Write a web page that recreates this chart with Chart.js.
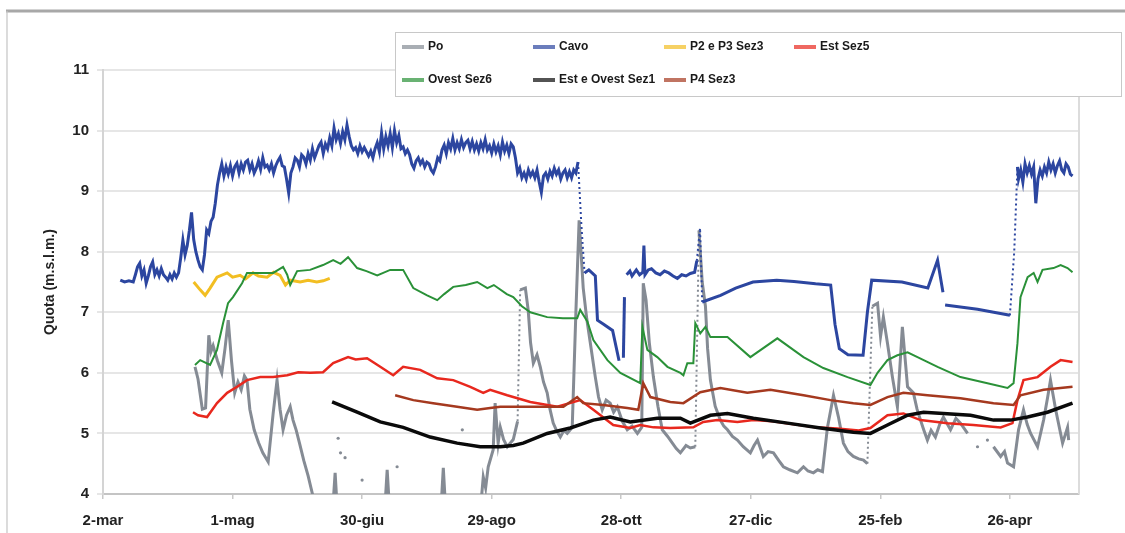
<!DOCTYPE html>
<html>
<head>
<meta charset="utf-8">
<script src="https://cdn.jsdelivr.net/npm/chart.js@4.4.0/dist/chart.umd.min.js"></script>
<style>
  html, body { margin: 0; padding: 0; background: #fff; }
  canvas { display: block; }
</style>
</head>
<body>
<canvas id="chart" width="1125" height="533"></canvas>
<script>
// asse x in giorni a partire dal 2 marzo
const tickDays = [0, 60, 120, 180, 240, 300, 360, 420];
const tickLabels = ["2-mar", "1-mag", "30-giu", "29-ago", "28-ott", "27-dic", "25-feb", "26-apr"];

// [giorno, quota m s.l.m.] - null = nessuna lettura
const po = [
  [42.6,6.10],[44,5.90],[46,5.40],[47.5,5.42],[49,6.62],[50,6.35],[51,6.45],[53,6.20],[55,6.00],[56.5,6.40],[58,6.87],[59.5,6.20],[61,5.67],
  [62.5,5.85],[64,5.72],[65.5,5.95],[66.7,5.88],[68,5.40],[70,5.06],[72,4.85],[74,4.68],[76.5,4.53],[78.8,5.33],[80.6,5.88],[82,5.40],[83.4,5.06],[85,5.30],[86.7,5.44],[88,5.22],
  [89.5,5.05],[91,4.84],[93,4.55],[95,4.30],[97,4.00],[99,3.60],[100,null],[106.5,3.80],[107.5,4.35],[108.4,3.80],[108.6,null],[108.9,4.92],
  [109.3,null],[110,4.68],[111,null],[112.1,4.60],[113,null],[120,4.23],[121,null],[130.6,3.80],[131.6,4.40],[132.6,3.80],
  [133,null],[136.2,4.45],[137,null],[156.6,3.80],[157.6,4.43],[158.6,3.80],[159,null],[166.4,5.06],[167,null],[174.7,3.70],
  [176.1,4.28],[177.2,4.10],[178.4,4.45],[180.7,4.73],[181.6,5.50],[183,4.84],[184,5.10],[185.5,4.90],[187.2,4.78],[190,4.90],[192,5.20],[193.2,7.37],
  [195.6,7.40],[196.9,7.04],[198,6.50],[199.3,6.16],[201,6.30],[202.5,6.10],[204,5.85],[205.7,5.67],[207,5.40],[208.5,5.17],[210,5.05],[211.8,4.94],[213.5,5.05],[215,5.00],[217.3,5.10],[219,7.00],
  [220.5,8.52],[222.4,7.40],[224,6.90],[225.7,6.49],[228,5.93],[229.5,5.60],[231.2,5.39],[233,5.55],[234.9,5.50],[236.5,5.35],[238.2,5.44],[240.5,5.20],[242.8,5.06],[245,5.12],[247.5,5.00],[249.5,5.10],
  [250.2,7.48],[251.5,7.20],[253,6.50],[254.9,5.93],[257,5.45],[259,5.06],[261.5,4.95],[263.7,4.84],[265.5,4.75],[267.4,4.68],[270,4.80],[272,4.76],[274.3,4.78],[276,8.35],[277.5,7.50],
  [279,7.10],[280,6.40],[281.3,5.88],[283.5,5.45],[285.9,5.22],[287.5,5.12],[289.2,5.06],[291.5,4.95],[293.8,4.89],[296.5,4.78],[299.8,4.68],[301.5,4.80],[303.1,4.89],[305.8,4.62],[308,4.70],[310.5,4.68],[313,4.55],[315.1,4.45],
  [318,4.40],[321.6,4.35],[324.4,4.45],[326.5,4.38],[329,4.35],[331,4.40],[333.2,4.37],[335.5,5.10],[338.3,5.63],[340.6,5.27],[342.9,4.84],[345,4.70],[347.5,4.62],[350,4.58],[352.2,4.56],
  [354,4.50],[356.3,7.10],[358.7,7.15],[360.1,6.60],[361.4,6.92],[363.3,6.49],[365.6,5.93],[367.9,5.44],[370.2,6.76],[372.6,5.77],
  [375.3,5.67],[377,5.40],[378.6,5.22],[380.2,5.05],[381.8,4.89],[383.5,5.05],[385.5,4.94],[387.5,5.15],[389.2,5.27],[392.5,5.06],[395,5.25],[397.1,5.17],[400.4,5.00],[402,null],[405,4.78],
  [406,null],[409.6,4.89],[410.5,null],[412.4,4.78],[415.7,4.62],[417.5,4.70],[418.9,4.51],[421.7,4.45],[424,5.06],[426.3,5.39],[428,5.15],[429.6,5.00],
  [432.8,4.78],[435.6,5.22],[437.5,5.60],[438.8,5.88],[441.2,5.39],[444.4,4.84],[446.7,5.10],[447.2,4.89]
];

const cavo = [
  [8,7.53],[10,7.50],[12,7.52],[14,7.50],[15,7.62],[16,7.75],[17,7.81],[18,7.60],[19,7.70],[20,7.48],
  [21,7.60],[22,7.75],[23,7.83],[24,7.62],[25,7.70],[26,7.60],[27,7.72],[28,7.62],[29,7.58],[30,7.53],
  [31,7.62],[32,7.55],[33,7.65],[34,7.58],[35,7.65],[36,7.90],[37,8.19],[38,7.95],[39,8.10],[40,8.35],
  [41,8.65],[42,8.20],[43,8.00],[44,7.86],[45,7.75],[46,7.70],[47,7.95],[48,8.36],[49,8.30],[50,8.50],
  [51,8.57],[52,8.80],[53,9.10],[54,9.30],[55,9.45],[56,9.25],[57,9.40],[58,9.28],[59,9.42],[60,9.25],
  [61,9.40],[62,9.46],[63,9.30],[64,9.45],[65,9.35],[66,9.48],[67,9.51],[68,9.35],[69,9.45],[70,9.30],
  [71,9.38],[72,9.50],[73,9.36],[74,9.55],[75,9.40],[76,9.43],[77,9.35],[78,9.45],[79,9.30],[80,9.42],
  [81,9.50],[82,9.56],[83,9.42],[84,9.40],[85,9.20],[86,8.97],[87,9.30],[88,9.40],[89,9.55],[90,9.51],
  [91,9.40],[92,9.60],[93,9.56],[94,9.45],[95,9.62],[96,9.51],[97,9.70],[98,9.55],[99,9.65],[100,9.75],
  [101,9.81],[102,9.62],[103,9.78],[104,9.70],[105,9.88],[106,9.75],[107,10.04],[108,9.85],[109,9.95],[110,9.79],
  [111,9.98],[112,9.85],[113,10.09],[114,9.90],[115,9.75],[116,9.68],[117,9.72],[118,9.62],[119,9.75],[120,9.65],
  [121,9.72],[122,9.65],[123,9.58],[124,9.66],[125,9.55],[126,9.70],[127,9.80],[128,9.65],[129,9.96],[130,9.70],
  [131,9.90],[132,9.75],[133,9.95],[134,9.72],[135,10.00],[136,9.80],[137,9.92],[138,9.70],[139,9.73],[140,9.62],
  [141,9.68],[142,9.60],[143,9.45],[144,9.38],[145,9.50],[146,9.55],[147,9.45],[148,9.51],[149,9.40],[150,9.48],
  [151,9.45],[152,9.35],[153,9.30],[154,9.40],[155,9.55],[156,9.50],[157,9.68],[158,9.76],[159,9.62],[160,9.80],
  [161,9.70],[162,9.87],[163,9.68],[164,9.80],[165,9.70],[166,9.85],[167,9.72],[168,9.80],[169,9.84],[170,9.70],
  [171,9.82],[172,9.68],[173,9.78],[174,9.66],[175,9.80],[176,9.70],[177,9.85],[178,9.68],[179,9.75],[180,9.63],
  [181,9.78],[182,9.65],[183,9.75],[184,9.60],[185,9.81],[186,9.66],[187,9.76],[188,9.62],[189,9.78],[190,9.73],
  [191,9.55],[192,9.30],[193,9.38],[194,9.22],[195,9.30],[196,9.20],[197,9.35],[198,9.25],[199,9.32],[200,9.22],
  [201,9.35],[202,9.15],[203,8.98],[204,9.25],[205,9.30],[206,9.20],[207,9.33],[208,9.25],[209,9.38],[210,9.28],
  [211,9.35],[212,9.20],[213,9.30],[214,9.35],[215,9.22],[216,9.32],[217,9.22],[218,9.35],[219,9.30],[220,9.48],
  [221.5,8.47],[223,7.65],[225,7.70],[228,7.60],[229,6.87],[232,6.80],[236,6.70],[239,6.20],[240,null],[241,6.25],
  [241.5,7.25],[242,null],[242.5,7.62],[244,7.68],[245,7.60],[247,7.70],[248.5,7.62],[250,7.66],[250.5,8.10],[251,7.62],
  [252.5,7.70],[254,7.72],[256,7.65],[258,7.62],[260,7.68],[262,7.65],[264,7.60],[266,7.56],[268,7.62],[270,7.60],
  [272,7.64],[274,7.66],[275,7.85],[276.5,8.39],[277.5,7.17],[286,7.28],[293,7.40],[301,7.50],[312,7.53],[320,7.51],
  [330,7.47],[337,7.45],[339,6.80],[341,6.40],[345,6.30],[352,6.29],[354,7.00],[356,7.53],[370,7.50],[382,7.40],
  [386.5,7.86],[389,7.33],[389.5,null],[390,7.12],[405,7.05],[420,6.95],[422,8.00],[423.5,9.40],[424,9.20],[425,9.35],
  [426,9.15],[427,9.45],[428,9.30],[429,9.42],[430,9.28],[431,9.40],[432,8.80],[433,9.20],[434,9.35],[435,9.25],
  [436,9.40],[437,9.30],[438,9.48],[439,9.35],[440,9.45],[441,9.30],[442,9.42],[443,9.50],[444,9.35],[445,9.30],
  [446,9.45],[447,9.40],[448,9.28],[449,9.25]
];

const p2p3Sez3 = [
  [42,7.50],[45,7.37],[47.3,7.28],[49.6,7.40],[52.8,7.58],[57.5,7.65],[60,7.58],[63.5,7.61],[66,7.55],[69.5,7.65],
  [72,7.60],[76,7.58],[79,7.66],[82,7.61],[84.5,7.45],[86.7,7.53],[91.3,7.50],[95,7.53],[99,7.50],[102,7.52],[105,7.56]
];

const estSez5 = [
  [41.7,5.35],[44,5.30],[48.2,5.27],[52.8,5.50],[57.5,5.67],[62.1,5.77],[66.7,5.88],[72.8,5.93],[78.8,5.93],[85.3,5.96],
  [90.4,6.01],[96,6.00],[101.9,6.01],[106.6,6.16],[113.5,6.26],[117,6.22],[122.3,6.24],[128.4,6.10],[134.4,5.96],[139,6.10],
  [146.9,6.05],[154.8,5.91],[162.2,5.88],[170.1,5.77],[176.1,5.67],[179.3,5.72],[187.2,5.63],[197.9,5.52],[210.4,5.44],[221,5.55],
  [227.1,5.39],[236.3,5.14],[244.2,5.09],[248.8,5.14],[254.9,5.10],[262.7,5.09],[273.4,5.10],[278,5.19],[284.5,5.22],[293.8,5.19],
  [301.2,5.22],[310,5.20],[320,5.15],[330,5.10],[340,5.08],[350,5.05],[355.4,5.09],[363.3,5.30],[370.7,5.33],[378.6,5.22],
  [391.1,5.17],[403.1,5.14],[415.7,5.10],[421.2,5.17],[423.5,5.55],[426.3,5.88],[432.8,5.93],[438.8,6.10],[443.5,6.21],[449,6.18]
];

const ovestSez6 = [
  [42.6,6.13],[45,6.21],[49.6,6.13],[52.8,6.38],[55.6,6.82],[57.9,7.15],[60.2,7.25],[64.4,7.48],[66.7,7.65],[72.8,7.65],
  [78.8,7.65],[83.4,7.75],[85.3,7.62],[86.7,7.45],[89.9,7.68],[95.9,7.70],[101.9,7.78],[106.6,7.86],[110,7.80],[113.5,7.91],
  [117.7,7.73],[122,7.68],[127,7.61],[133,7.70],[139,7.70],[143.7,7.40],[150.1,7.28],[154.8,7.20],[158,7.30],[162.2,7.42],
  [168,7.45],[173.3,7.50],[178,7.40],[181,7.45],[187,7.30],[190,7.25],[194,7.10],[197.9,7.00],[205.7,6.92],[213,6.90],
  [219.6,6.90],[221,7.04],[224.3,6.85],[227.1,6.54],[233.6,6.21],[239.6,6.00],[248.8,5.83],[249.8,6.76],[252.1,6.38],[256.7,6.26],
  [261.4,6.10],[267.4,6.00],[268.8,5.96],[270.6,6.16],[273.4,6.16],[274.3,6.82],[276.6,6.65],[279,6.76],[281.3,6.59],[289.2,6.59],
  [299.8,6.26],[312.3,6.57],[324.4,6.26],[333.6,6.08],[344.8,5.93],[355.4,5.80],[358.7,6.00],[363.3,6.21],[367.9,6.29],[372.6,6.34],
  [377.2,6.26],[386.5,6.10],[397.1,5.93],[409.6,5.83],[418.9,5.75],[421.7,5.83],[423.5,6.49],[424.9,7.25],[428.2,7.58],[431,7.65],
  [432.8,7.50],[435.1,7.70],[440.2,7.73],[443.5,7.78],[446.7,7.73],[449,7.66]
];

const estOvestSez1 = [
  [106.1,5.52],[117.7,5.35],[128.4,5.19],[139,5.10],[151.5,4.94],[164,4.84],[174.7,4.78],[184,4.78],[190,4.80],[194.6,4.84],
  [205.7,5.00],[216.4,5.09],[227.1,5.22],[234.9,5.27],[244.2,5.19],[256.7,5.25],[267.4,5.25],[272,5.17],[281.3,5.30],[289.2,5.33],
  [301.2,5.25],[317,5.17],[332.3,5.09],[347.5,5.02],[355.4,5.00],[363.3,5.14],[372.6,5.30],[380,5.35],[389.2,5.33],[401.8,5.30],
  [412.4,5.22],[420.3,5.22],[428.2,5.27],[437.4,5.35],[449,5.50]
];

const p4Sez3 = [
  [135.3,5.63],[143.7,5.55],[152.9,5.50],[164,5.44],[173.3,5.39],[179.3,5.42],[184,5.44],[197.9,5.44],[213.2,5.44],[219.6,5.60],
  [222.4,5.50],[231.7,5.47],[242.8,5.42],[247.9,5.39],[250.2,5.83],[253.5,5.60],[262.7,5.52],[268.8,5.50],[276.6,5.68],[285.9,5.75],
  [298.4,5.67],[309.1,5.72],[324.4,5.63],[336.9,5.55],[347.5,5.50],[355.4,5.47],[363.3,5.60],[370.7,5.67],[381.8,5.63],[397.1,5.58],
  [412.4,5.50],[421.7,5.47],[424.9,5.63],[435.6,5.72],[449,5.77]
];

// tratti senza letture continue: disegnati a puntini (giorno di inizio del tratto)
const dottedFrom = {
  "Po": [192, 274.3, 354],
  "Cavo": [220, 221.5, 275, 276.5, 420, 422]
};

const series = [
  { label: "Po", data: po, color: "#858b94", width: 3 },
  { label: "Cavo", data: cavo, color: "#2c46a0", width: 3 },
  { label: "P2 e P3 Sez3", data: p2p3Sez3, color: "#f2be22", width: 3 },
  { label: "Est Sez5", data: estSez5, color: "#e8281e", width: 2.5 },
  { label: "Ovest Sez6", data: ovestSez6, color: "#2a9138", width: 2 },
  { label: "Est e Ovest Sez1", data: estOvestSez1, color: "#0a0a0a", width: 3.5 },
  { label: "P4 Sez3", data: p4Sez3, color: "#a5391f", width: 2.5 }
];

const FONT = '"Liberation Sans", Arial, sans-serif';
Chart.defaults.font.family = FONT;

function isDotted(ctx) {
  const s = series[ctx.datasetIndex];
  const list = dottedFrom[s.label];
  if (!list) return false;
  return list.includes(s.data[ctx.p0DataIndex][0]);
}

function lonePointRadius(ctx) {
  const d = ctx.dataset.data;
  const i = ctx.dataIndex;
  if (!d[i] || d[i].y === null) return 0;
  const prevGap = i === 0 || d[i - 1].y === null;
  const nextGap = i === d.length - 1 || d[i + 1].y === null;
  return prevGap && nextGap ? 1.6 : 0;
}

// cornice, bordo destro del grafico e legenda su due righe
const framePlugin = {
  id: "frame",
  beforeDraw(chart) {
    const c = chart.ctx;
    c.save();
    c.fillStyle = "#ffffff";
    c.fillRect(0, 0, chart.width, chart.height);
    c.strokeStyle = "#a8a8a8";
    c.lineWidth = 3;
    c.beginPath();
    c.moveTo(6, 11);
    c.lineTo(chart.width, 11);
    c.stroke();
    c.strokeStyle = "#c4c4c4";
    c.lineWidth = 1.2;
    c.beginPath();
    c.moveTo(7, 11);
    c.lineTo(7, chart.height);
    c.stroke();
    c.restore();
  },
  afterDraw(chart) {
    const c = chart.ctx;
    const a = chart.chartArea;
    c.save();
    c.strokeStyle = "#dcdcdc";
    c.lineWidth = 2;
    c.beginPath();
    c.moveTo(a.right, a.top);
    c.lineTo(a.right, a.bottom);
    c.stroke();

    // legenda
    c.fillStyle = "#ffffff";
    c.fillRect(395, 32, 727, 64);
    c.strokeStyle = "#c8c8c8";
    c.lineWidth = 1;
    c.strokeRect(395.5, 32.5, 726, 64);
    const colX = [402, 533, 664, 794];
    const rowY = [47, 80];
    c.font = "bold 12px " + FONT;
    c.textBaseline = "middle";
    c.textAlign = "left";
    series.forEach((s, i) => {
      const row = i < 4 ? 0 : 1;
      const col = i < 4 ? i : i - 4;
      const x = colX[col];
      const y = rowY[row];
      c.globalAlpha = 0.7;
      c.strokeStyle = s.color;
      c.lineWidth = 4;
      c.beginPath();
      c.moveTo(x, y);
      c.lineTo(x + 22, y);
      c.stroke();
      c.globalAlpha = 1;
      c.fillStyle = "#1a1a1a";
      c.fillText(s.label, x + 26, y);
    });
    c.restore();
  }
};

new Chart(document.getElementById("chart"), {
  type: "line",
  data: {
    datasets: series.map((s, i) => ({
      label: s.label,
      data: s.data.map(([x, y]) => ({ x, y })),
      borderColor: s.color,
      backgroundColor: s.color,
      borderWidth: s.width,
      pointRadius: lonePointRadius,
      pointBorderWidth: 0,
      pointHoverRadius: 0,
      tension: 0,
      spanGaps: false,
      clip: 0,
      order: series.length - i,
      segment: {
        borderDash: ctx => (isDotted(ctx) ? [2, 3] : undefined),
        borderWidth: ctx => (isDotted(ctx) ? 2 : undefined)
      }
    }))
  },
  options: {
    responsive: false,
    animation: false,
    layout: { padding: { left: 40, top: 70, right: 46, bottom: 0 } },
    plugins: {
      legend: { display: false },
      tooltip: { enabled: false }
    },
    scales: {
      x: {
        type: "linear",
        min: 0,
        max: 452,
        afterBuildTicks: scale => {
          scale.ticks = tickDays.map(v => ({ value: v }));
        },
        afterFit: scale => {
          scale.height = 39;
        },
        ticks: {
          autoSkip: false,
          maxRotation: 0,
          padding: 13,
          color: "#222",
          font: { size: 15, weight: "bold" },
          callback: (v, i) => tickLabels[i]
        },
        grid: {
          drawOnChartArea: false,
          tickLength: 5,
          color: "#c8c8c8",
          lineWidth: 1.5
        },
        border: { color: "#c4c4c4", width: 2 }
      },
      y: {
        min: 4,
        max: 11,
        afterFit: scale => {
          scale.width = 63;
        },
        ticks: {
          stepSize: 1,
          padding: 8,
          color: "#222",
          font: { size: 15, weight: "bold" }
        },
        grid: {
          color: "#e6e6e6",
          lineWidth: 2,
          tickLength: 6
        },
        border: { color: "#d4d4d4", width: 2 },
        title: {
          display: true,
          text: "Quota (m.s.l.m.)",
          color: "#222",
          font: { size: 14, weight: "bold" },
          padding: { top: 2, bottom: 0 }
        }
      }
    }
  },
  plugins: [framePlugin]
});
</script>
</body>
</html>
